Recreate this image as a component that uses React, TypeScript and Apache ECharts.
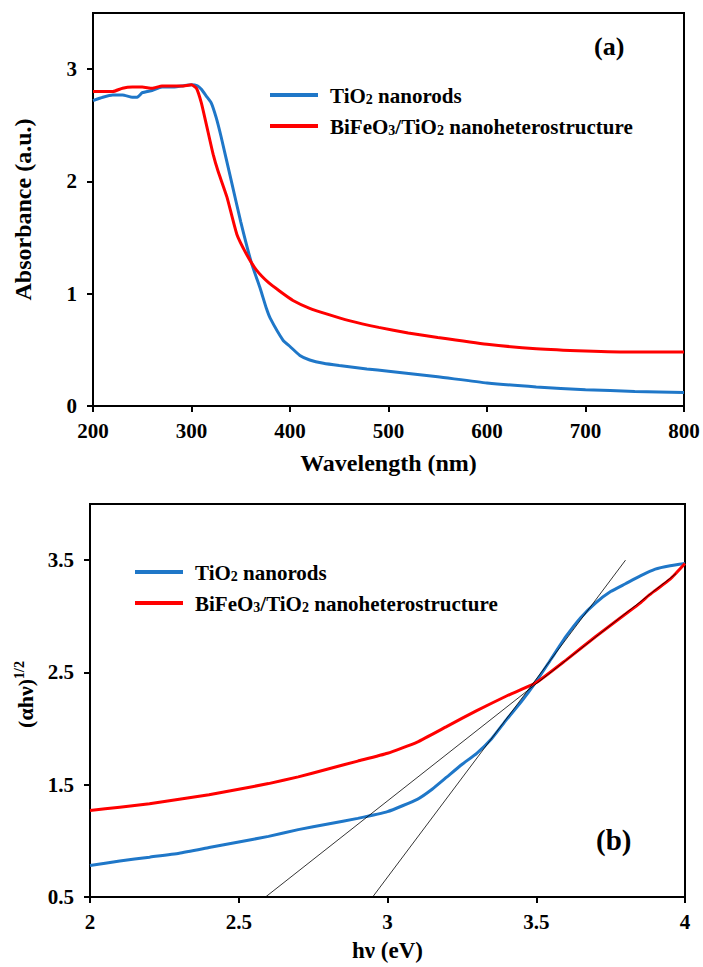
import React, { useEffect, useRef } from 'react';
import * as echarts from 'echarts';

const FONT = 'Liberation Serif';
const BLUE = '#1F77C8';
const RED = '#FF0000';
const SERIES_NAMES = ['TiO2 nanorods', 'BiFeO3/TiO2 nanoheterostructure'];

// (a) Absorbance vs wavelength
const tioWl = [200, 210, 220, 230, 240, 245, 250, 260, 270, 280, 290, 300, 306, 310, 315, 320, 325, 330, 340, 350, 361, 370, 376, 380, 393, 400, 410, 420, 434, 450, 478, 500, 550, 600, 650, 700, 750, 800];
const tioAbs = [2.72, 2.75, 2.77, 2.77, 2.75, 2.75, 2.79, 2.81, 2.84, 2.84, 2.85, 2.86, 2.85, 2.82, 2.76, 2.70, 2.57, 2.40, 2.02, 1.64, 1.27, 1.04, 0.87, 0.78, 0.585, 0.53, 0.45, 0.41, 0.38, 0.36, 0.33, 0.31, 0.26, 0.205, 0.17, 0.145, 0.13, 0.12];
const bfoWl = [200, 210, 220, 230, 240, 250, 260, 270, 280, 290, 300, 305, 310, 315, 322, 327, 336, 346, 356, 366, 378, 390, 403, 420, 437, 460, 490, 520, 550, 600, 650, 700, 750, 800];
const bfoAbs = [2.80, 2.80, 2.80, 2.83, 2.84, 2.84, 2.83, 2.85, 2.85, 2.85, 2.86, 2.83, 2.70, 2.51, 2.24, 2.09, 1.86, 1.53, 1.35, 1.21, 1.10, 1.02, 0.94, 0.87, 0.82, 0.76, 0.70, 0.65, 0.61, 0.55, 0.51, 0.49, 0.48, 0.48];

// (b) Tauc plot
const tioHv = [2.0, 2.1, 2.2, 2.3, 2.4, 2.5, 2.6, 2.7, 2.8, 2.9, 3.0, 3.1, 3.15, 3.2, 3.25, 3.3, 3.35, 3.4, 3.45, 3.5, 3.55, 3.6, 3.65, 3.7, 3.75, 3.8, 3.85, 3.9, 3.95, 4.0];
const tioTauc = [0.78, 0.82, 0.855, 0.89, 0.94, 0.99, 1.04, 1.10, 1.15, 1.20, 1.26, 1.37, 1.46, 1.57, 1.68, 1.78, 1.91, 2.08, 2.24, 2.42, 2.62, 2.82, 2.99, 3.12, 3.22, 3.29, 3.36, 3.42, 3.45, 3.47];
const bfoHv = [2.0, 2.1, 2.2, 2.3, 2.4, 2.5, 2.6, 2.7, 2.8, 2.9, 3.0, 3.1, 3.2, 3.3, 3.4, 3.5, 3.6, 3.7, 3.8, 3.85, 3.88, 3.9, 3.95, 4.0];
const bfoTauc = [1.27, 1.30, 1.33, 1.37, 1.41, 1.46, 1.51, 1.57, 1.64, 1.71, 1.78, 1.88, 2.02, 2.16, 2.29, 2.41, 2.61, 2.82, 3.02, 3.12, 3.19, 3.23, 3.33, 3.47];
const tangentSteepHv = [2.95, 3.80];
const tangentSteepY = [0.5, 3.5];
const tangentShallowHv = [2.59, 3.97];
const tangentShallowY = [0.5, 3.38];

const absTicks = [0, 1, 2, 3];
const wlTicks = [200, 300, 400, 500, 600, 700, 800];
const taucTicks = [0.5, 1.5, 2.5, 3.5];
const hvTicks = [2, 2.5, 3, 3.5, 4];

const zip = (xs: number[], ys: number[]) => xs.map((x, i) => [x, ys[i]]);

const richName = (name: string) =>
  '{n|' + name.replace(/([A-Za-z])(\d)/g, '$1}{s|$2}{n|') + '}';

function axisBase(ticks: number[], fmt: (v: number) => string, margin: number) {
  return {
    axisLine: { show: true, onZero: false, lineStyle: { color: '#000', width: 2 } },
    axisTick: { show: true, inside: false, length: 6, customValues: ticks, lineStyle: { color: '#000', width: 2 } },
    axisLabel: {
      customValues: ticks,
      formatter: (v: number) => fmt(v),
      color: '#000',
      fontFamily: FONT,
      fontWeight: 'bold',
      fontSize: 21,
      margin,
    },
    splitLine: { show: false },
  };
}

function legendCfg(left: number, top: number) {
  return {
    orient: 'vertical',
    left,
    top,
    itemWidth: 48,
    itemHeight: 4,
    itemGap: 10,
    icon: 'rect',
    data: SERIES_NAMES,
    selectedMode: false,
    formatter: (name: string) => richName(name),
    textStyle: {
      color: '#000',
      fontFamily: FONT,
      fontWeight: 'bold',
      fontSize: 21,
      padding: [0, 0, 0, 7],
      rich: {
        n: { fontFamily: FONT, fontWeight: 'bold', fontSize: 21, color: '#000', lineHeight: 22, verticalAlign: 'bottom' },
        s: { fontFamily: FONT, fontWeight: 'bold', fontSize: 14, color: '#000', lineHeight: 22, verticalAlign: 'bottom' },
      },
    },
  };
}

export default function App() {
  const ref = useRef<HTMLDivElement>(null);
  useEffect(() => {
    document.body.style.margin = '0';
    const chart = echarts.init(ref.current!, null, { renderer: 'svg' });
    const lineSeries = (name: string, color: string, xi: number, data: number[][]) => ({
      type: 'line',
      name,
      xAxisIndex: xi,
      yAxisIndex: xi,
      data,
      symbol: 'none',
      smooth: 0.15,
      color,
      lineStyle: { color, width: 3 },
      itemStyle: { color },
    });
    const tangent = (hv: number[], y: number[]) => ({
      type: 'line',
      name: 'tangent',
      xAxisIndex: 1,
      yAxisIndex: 1,
      data: zip(hv, y),
      symbol: 'none',
      silent: true,
      lineStyle: { color: '#000', width: 0.8 },
      z: 5,
    });
    chart.setOption({
      animation: false,
      backgroundColor: '#fff',
      grid: [
        { left: 93, top: 13, width: 591, height: 393, show: true, borderColor: '#000', borderWidth: 2, outerBoundsMode: 'none' },
        { left: 90, top: 504, width: 595, height: 393, show: true, borderColor: '#000', borderWidth: 2, outerBoundsMode: 'none' },
      ],
      xAxis: [
        {
          type: 'value', gridIndex: 0, min: 200, max: 800, interval: 100,
          ...axisBase(wlTicks, (v) => String(v), 14),
          name: 'Wavelength (nm)', nameLocation: 'middle', nameGap: 45,
          nameTextStyle: { color: '#000', fontFamily: FONT, fontWeight: 'bold', fontSize: 24 },
        },
        {
          type: 'value', gridIndex: 1, min: 2, max: 4, interval: 0.5,
          ...axisBase(hvTicks, (v) => String(v), 14),
          name: 'hν (eV)', nameLocation: 'middle', nameGap: 42,
          nameTextStyle: { color: '#000', fontFamily: FONT, fontWeight: 'bold', fontSize: 23 },
        },
      ],
      yAxis: [
        {
          type: 'value', gridIndex: 0, min: 0, max: 3.5, interval: 1,
          ...axisBase(absTicks, (v) => String(v), 16),
          name: 'Absorbance (a.u.)', nameLocation: 'middle', nameGap: 58,
          nameTextStyle: { color: '#000', fontFamily: FONT, fontWeight: 'bold', fontSize: 24 },
        },
        {
          type: 'value', gridIndex: 1, min: 0.5, max: 4, interval: 1,
          ...axisBase(taucTicks, (v) => v.toFixed(1), 16),
          name: '{m|(αhν)}{s|1/2}', nameLocation: 'middle', nameGap: 54,
          nameTextStyle: {
            color: '#000', fontFamily: FONT, fontWeight: 'bold', fontSize: 22,
            padding: [0, 0, 0, 12],
            rich: {
              m: { fontFamily: FONT, fontWeight: 'bold', fontSize: 22, color: '#000', lineHeight: 24, verticalAlign: 'bottom' },
              s: { fontFamily: FONT, fontWeight: 'bold', fontSize: 14, color: '#000', lineHeight: 24, verticalAlign: 'top' },
            },
          },
        },
      ],
      legend: [legendCfg(265, 80), legendCfg(130, 557)],
      graphic: [
        { type: 'text', left: 594, top: 33, style: { text: '(a)', fontFamily: FONT, fontWeight: 'bold', fontSize: 26, fill: '#000' } },
        { type: 'text', left: 596, top: 825, style: { text: '(b)', fontFamily: FONT, fontWeight: 'bold', fontSize: 29, fill: '#000' } },
      ],
      series: [
        lineSeries(SERIES_NAMES[0], BLUE, 0, zip(tioWl, tioAbs)),
        lineSeries(SERIES_NAMES[1], RED, 0, zip(bfoWl, bfoAbs)),
        lineSeries(SERIES_NAMES[0], BLUE, 1, zip(tioHv, tioTauc)),
        lineSeries(SERIES_NAMES[1], RED, 1, zip(bfoHv, bfoTauc)),
        tangent(tangentSteepHv, tangentSteepY),
        tangent(tangentShallowHv, tangentShallowY),
      ],
    });
    return () => chart.dispose();
  }, []);
  return <div ref={ref} style={{ width: 703, height: 967 }} />;
}
